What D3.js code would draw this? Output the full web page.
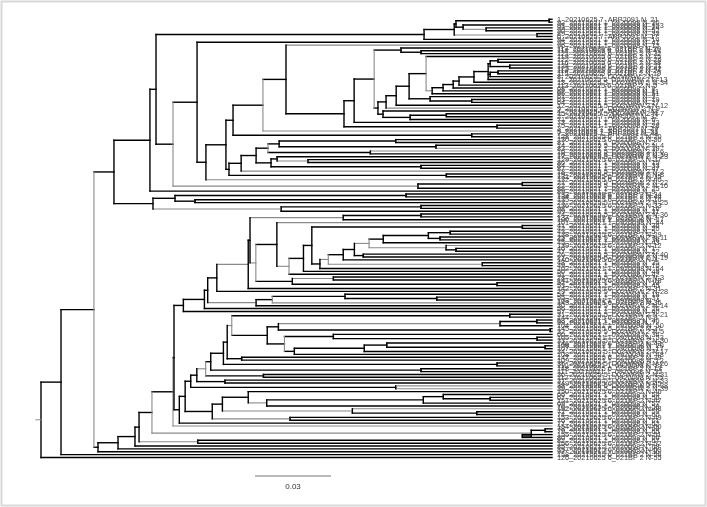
<!DOCTYPE html>
<html lang="en">
<head>
<meta charset="UTF-8">
<title>Tree</title>
<script src="https://d3js.org/d3.v7.min.js"></script>
<style>
  html, body { margin: 0; padding: 0; background: #fff; }
  svg { display: block; will-change: transform; }
</style>
</head>
<body>
<div id="chart"></div>
<script>
// node distances from the root (x 0.001 subst./site); "g" = grey stem, "v" = grey bar
const treeHeight = 201.7;
const rootStub = 2.0;
const scaleBarValue = 30;   // 0.03
const scaleBarText = "0.03";

// upper block
const cladeTop = "((((L,L)200.6,(L,(L,L)175.7g)166.6)163.8,(L,L)195.8g)163.1,L)151.2";
const n279 = "((L,L)140.0,(L,Lg)155.9)94.0";
const n229 = `((((${n279},(Lg,L)130.0)89.6v,((L,(L,L)105.4g)93.2,(L,L)150.0)90.8)84.9,Lg)79.0,(L,L)160.0)74.2`;
const n488 = "(((L,L)180.4,(L,L)185.0)177.3,((L,L)180.4,L)177.3,L)176.5";
const n432 = `(((((${n488},L)170.9,L)165.0,L)162.7,L)158.7,L)154.4g`;
const n409 = `((L,${n432})152.0v,(L,(L,L)170.0)153.6)145.3`;
const n378 = `(((${n409},L)140.2,Lg)136.2,(L,((L,L)160.0,L)145.7)135.0)133.0`;
const n344 = `((((L,(L,L)150.0)142.1,${n378})131.5v,L)123.6,(L,L)180.0)119.6`;
const n226 = `((((Lg,${n344})96.7,Lg)87.6v,(L,L)170.0)75.8,${n229})73.0`;
const n173 = `((L,(${n226},Lg)65.1)61.6,((L,L)190.0,L)148.8g)52.1v`;
const cladeC1 = `((${cladeTop},${n173})45.4,L)43.0`;
const cladeC2 = "(((L,L)144.1,(L,L)60.8)52.9,((L,L)150.0,L)94.8g)44.2";
const upperBlock = `(${cladeC1},${cladeC2})28.8`;

// middle block (J)
const n383 = "(((L,L)161.5,(L,L)157.5)152.9,L)135.1";
const n354 = `((${n383},(Lg,(L,L)163.8)159.9g)129.5vg,(L,L)127.2)123.7`;
const n320 = `(((${n354},L)119.3,(L,L)174.2g)113.4vg,L)110.1`;
const n289 = `((((L,L)190.0,${n320})106.9,L)103.6,L)97.9vg`;
const n256a = `((Lg,${n289})93.1,((L,L)115.4g,(L,L)180.0)99.2)84.8vg`;
const j4 = `((((L,L)150.0,L)119.3g,${n256a})82.5,L)81.8g`;
const n256b = "(((L,(L,L)156.2)120.0,Lg)91.3v,L)84.9g";
const cladeJ = `((((${j4},L)69.4,${n256b})65.8,L)64.5,L)56.2`;

// lower block (K)
const n278 = "(((L,L)195.7,L)181.2g,(L,L)201.0)93.7";
const n284 = "((L,(L,L)195.8)115.4,(((L,(L,L)199.0)136.5,L)127.6,L)100.0)96.1v";
const n231 = `((L,L)185.0,(${n278},${n284})89.3)75.3vg`;
const n210 = `(((${n231},(L,L)79.2)73.5,(L,L)180.0)72.0,(L,L)150.0)67.0`;
const n190 = `(((${n210},(L,L)87.8)65.0vg,(L,L)72.6)61.5,(Lg,Lg)140.0)59.1`;
const n222 = "((L,(((L,(L,L)177.3)158.8,L)150.9,L)89.1g)81.8,(Lg,(L,L)172.0)122.9g)71.6";
const cladeK = `((${n190},(${n222},(L,L)98.3g)67.6)56.9,L)54.6`;

const lowerBlock = `(((((((${cladeJ},${cladeK})52.5,Lg)52.1v,((L,L)199.0,(L,L)190.0)193.5g)43.8v,(L,L)61.9g)38.7,L)37.1,L)30.4,L)22.5`;
const treeText = `(((${upperBlock},${lowerBlock})20.9v,L)7.9,L)0`;

const leafLabels = [
  "1_20210625 7_ARP2091 N_21","92_20210621 1_0920098 N_30","91_20210621 1_0920098 N_103","93_20210621 1_0920098 N_24","90_20210621 1_0920098 N_52",
  "89_20210621 1_0920098 N_33","6_20210625 7_ARP2091 N_17","94_20210621 1_0920098 N_14","95_20210621 1_0920098 N_41","96_20210621 1_0920098 N_12",
  "117_20210625 6_021BP 2 N-10","118_20210625 6_021BP 2 N-41","121_20210625 6_021BP 2 N-32","119_20210625 6_021BP 2 N-15","122_20210625 6_021BP 2 N-26",
  "116_20210625 6_021BP 2 N-38","124_20210625 6_021BP 2 N-21","125_20210625 6_021BP 2 N-42","114_20210625 6_021BP 2 N-24","115_20210625 6_021BP 2 N-19",
  "8_20210625 5_D02WRW 2 N-1","11_20210625 5_D02WRW 2 N-13","13_20210625 5_D02WRW 2 N-34","113_20210625 6_021BP 2 N-5","68_20210621 1_0920098 N_8",
  "62_20210621 1_0920098 N_11","65_20210621 1_0920098 N_51","61_20210621 1_0920098 N_3","63_20210621 1_0920098 N_19","64_20210621 1_0920098 N_27",
  "12_20210625 5_D02WRW 2 N-12","9_20210625 5_D02WRW 2 N-9","4_20210625 7_ARP2091 N_44","15_20210625 5_D02WRW 2 N-7","2_20210625 7_ARP2091 N_32",
  "71_20210621 1_0920098 N_6","73_20210621 1_0920098 N_23","75_20210621 1_0920098 N_28","3_20210625 7_ARP2091 N_29","5_20210625 7_ARP2091 N_31",
  "7_20210625 7_ARP2091 N_48","128_20210625 6_021BP 2 N-20","130_20210625 6_021BP 2 N-30","81_20210621 1_0920098 N_2","14_20210625 5_D02WRW 2 N-4",
  "83_20210621 1_0920098 N_39","16_20210625 5_D02WRW 2 N-6","10_20210625 5_D02WRW 2 N-10","17_20210625 5_D02WRW 2 N-23","129_20210625 6_021BP 2 N-27",
  "86_20210621 1_0920098 N_15","84_20210621 1_0920098 N_33","87_20210621 1_0920098 N_47","18_20210625 5_D02WRW 2 N-2","19_20210625 5_D02WRW 2 N-8",
  "131_20210625 6_021BP 2 N-35","132_20210625 6_021BP 2 N-40","21_20210625 5_D02WRW 2 N-22","22_20210625 5_D02WRW 2 N-16","88_20210621 1_0920098 N_25",
  "89_20210621 1_0920098 N_9","133_20210625 6_021BP 2 N-34","134_20210625 6_021BP 2 N-44","135_20210625 6_021BP 2 N-16","23_20210625 5_D02WRW 2 N-25",
  "136_20210625 6_021BP 2 N-33","98_20210621 1_0920098 N_16","99_20210621 1_0920098 N_31","24_20210625 5_D02WRW 2 N-36","137_20210625 6_021BP 2 N-3",
  "100_20210621 1_0920098 N_27","101_20210621 1_0920098 N_44","41_20210621 1_0920098 N_36","42_20210621 1_0920098 N_20","43_20210621 1_0920098 N_5",
  "138_20210625 6_021BP 2 N-29","25_20210625 5_D02WRW 2 N-11","44_20210621 1_0920098 N_38","45_20210621 1_0920098 N_43","139_20210625 6_021BP 2 N-12",
  "46_20210621 1_0920098 N_1","47_20210621 1_0920098 N_22","26_20210625 5_D02WRW 2 N-40","27_20210625 5_D02WRW 2 N-19","140_20210625 6_021BP 2 N-7",
  "48_20210621 1_0920098 N_35","49_20210621 1_0920098 N_10","102_20210621 1_0920098 N_64","50_20210621 1_0920098 N_49","51_20210621 1_0920098 N_42",
  "28_20210625 5_D02WRW 2 N-3","141_20210625 6_021BP 2 N-18","52_20210621 1_0920098 N_13","53_20210621 1_0920098 N_45","142_20210625 6_021BP 2 N-31",
  "29_20210625 5_D02WRW 2 N-28","54_20210621 1_0920098 N_18","55_20210621 1_0920098 N_37","103_20210621 1_0920098 N_4","143_20210625 6_021BP 2 N-36",
  "30_20210625 5_D02WRW 2 N-14","56_20210621 1_0920098 N_26","57_20210621 1_0920098 N_40","31_20210625 5_D02WRW 2 N-21","144_20210625 6_021BP 2 N-9",
  "58_20210621 1_0920098 N_46","59_20210621 1_0920098 N_7","104_20210621 1_0920098 N_50","145_20210625 6_021BP 2 N-37","32_20210625 5_D02WRW 2 N-5",
  "60_20210621 1_0920098 N_34","105_20210621 1_0920098 N_53","33_20210625 5_D02WRW 2 N-30","146_20210625 6_021BP 2 N-43","106_20210621 1_0920098 N_29",
  "107_20210621 1_0920098 N_17","34_20210625 5_D02WRW 2 N-17","108_20210621 1_0920098 N_48","147_20210625 6_021BP 2 N-39","109_20210621 1_0920098 N_12",
  "35_20210625 5_D02WRW 2 N-26","110_20210621 1_0920098 N_21","148_20210625 6_021BP 2 N-13","111_20210621 1_0920098 N_32","36_20210625 5_D02WRW 2 N-31",
  "112_20210621 1_0920098 N_55","37_20210625 5_D02WRW 2 N-33","149_20210625 6_021BP 2 N-45","38_20210625 5_D02WRW 2 N-38","39_20210625 5_D02WRW 2 N-39",
  "150_20210625 6_021BP 2 N-46","66_20210621 1_0920098 N_54","67_20210621 1_0920098 N_56","151_20210625 6_021BP 2 N-47","69_20210621 1_0920098 N_57",
  "70_20210621 1_0920098 N_58","152_20210625 6_021BP 2 N-48","72_20210621 1_0920098 N_59","74_20210621 1_0920098 N_60","153_20210625 6_021BP 2 N-49",
  "76_20210621 1_0920098 N_61","77_20210621 1_0920098 N_62","154_20210625 6_021BP 2 N-50","78_20210621 1_0920098 N_63","79_20210621 1_0920098 N_65",
  "155_20210625 6_021BP 2 N-51","80_20210621 1_0920098 N_66","82_20210621 1_0920098 N_67","156_20210625 6_021BP 2 N-52","85_20210621 1_0920098 N_68",
  "157_20210625 6_021BP 2 N-53","97_20210621 1_0920098 N_36","158_20210625 6_021BP 2 N-54","126_20210625 6_021BP 2 N-55"
];

// tiny parser for the bracket text above
function parseTree(s) {
  let i = 0;
  function node() {
    if (s[i] === "(") {
      i++;
      const children = [node()];
      while (s[i] === ",") { i++; children.push(node()); }
      i++; // ')'
      const m = /^([\d.]+)([gv]*)/.exec(s.slice(i));
      i += m[0].length;
      return { children: children, dist: +m[1], gray: m[2].indexOf("g") >= 0, vgray: m[2].indexOf("v") >= 0 };
    }
    i++; // 'L'
    let gray = false;
    if (s[i] === "g") { gray = true; i++; }
    return { dist: treeHeight, gray: gray };
  }
  return node();
}

const width = 707, height = 507;
const black = "#000", grey = "#8a8a8a";

const root = d3.hierarchy(parseTree(treeText));
const leaves = root.leaves();

const x = d3.scaleLinear().domain([0, treeHeight]).range([41, 552]);
const y = d3.scaleLinear().domain([0, leaves.length - 1]).range([19.3, 457.5]);

leaves.forEach(function(d, k) { d.y = y(k); d.label = leafLabels[k] || ""; });
root.eachAfter(function(d) {
  if (d.children) d.y = (d.children[0].y + d.children[d.children.length - 1].y) / 2;
});

const svg = d3.select("#chart").append("svg")
  .attr("width", width).attr("height", height);

svg.append("rect")
  .attr("x", 1.5).attr("y", 1.5).attr("width", width - 3).attr("height", height - 3)
  .attr("fill", "#fff").attr("stroke", "#d8d8d8").attr("stroke-width", 2);

const g = svg.append("g").attr("stroke-linecap", "square");

// horizontal stems
g.selectAll("line.stem")
  .data(root.descendants().filter(function(d) { return d.parent; }))
  .enter().append("line")
  .attr("class", "stem")
  .attr("x1", function(d) { return x(d.parent.data.dist); })
  .attr("x2", function(d) { return x(d.data.dist); })
  .attr("y1", function(d) { return d.y; })
  .attr("y2", function(d) { return d.y; })
  .attr("stroke", function(d) { return d.data.gray ? grey : black; })
  .attr("stroke-width", function(d) { return d.data.gray ? 1.1 : 1.4; });

// vertical bars
g.selectAll("line.bar")
  .data(root.descendants().filter(function(d) { return d.children; }))
  .enter().append("line")
  .attr("class", "bar")
  .attr("x1", function(d) { return x(d.data.dist); })
  .attr("x2", function(d) { return x(d.data.dist); })
  .attr("y1", function(d) { return d.children[0].y; })
  .attr("y2", function(d) { return d.children[d.children.length - 1].y; })
  .attr("stroke", function(d) { return d.data.vgray ? grey : black; })
  .attr("stroke-width", function(d) { return d.data.vgray ? 1.1 : 1.4; });

// root stub
g.append("line")
  .attr("x1", x(-rootStub)).attr("x2", x(0))
  .attr("y1", root.y).attr("y2", root.y)
  .attr("stroke", grey).attr("stroke-width", 1);

// labels
svg.append("g")
  .attr("font-family", "'Liberation Sans', Arial, sans-serif")
  .attr("font-size", 7.3)
  .attr("fill", "#444")
  .selectAll("text")
  .data(leaves)
  .enter().append("text")
  .attr("x", x(treeHeight) + 5)
  .attr("y", function(d) { return d.y + 2.6; })
  .text(function(d) { return d.label; });

// scale bar
const barX = 255, barY = 476;
svg.append("line")
  .attr("x1", barX).attr("x2", barX + x(scaleBarValue) - x(0))
  .attr("y1", barY).attr("y2", barY)
  .attr("stroke", "#777").attr("stroke-width", 1);
svg.append("text")
  .attr("x", barX + (x(scaleBarValue) - x(0)) / 2)
  .attr("y", barY + 13)
  .attr("text-anchor", "middle")
  .attr("font-family", "'Liberation Sans', Arial, sans-serif")
  .attr("font-size", 8)
  .attr("fill", "#333")
  .text(scaleBarText);
</script>
</body>
</html>
